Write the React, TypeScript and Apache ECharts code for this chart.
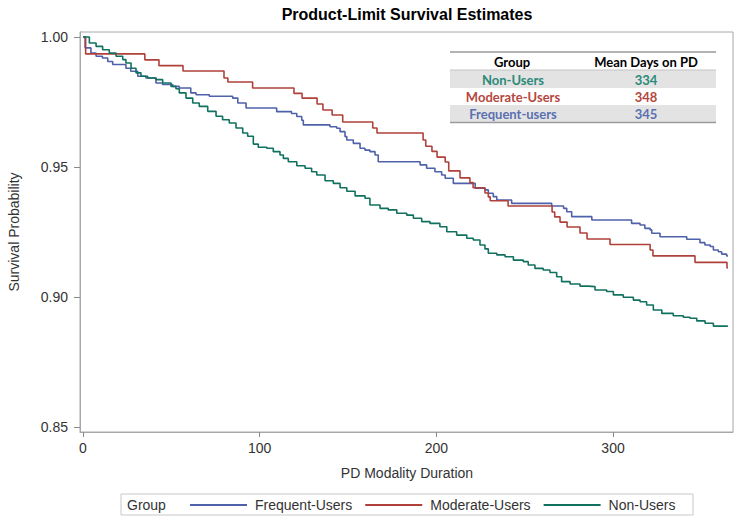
import React, { useEffect, useRef } from 'react';
import * as echarts from 'echarts';

const seriesNames = ['Frequent-Users', 'Moderate-Users', 'Non-Users'];

const frequentUsers: [number, number][] = [
  [0, 1.0], [1.2, 0.9958], [4.5, 0.9938], [7.4, 0.9926], [11, 0.9919], [14, 0.9906],
  [16.8, 0.9894], [24.3, 0.988], [27, 0.9868], [31, 0.9849], [35.6, 0.9842], [41.3, 0.9823],
  [45, 0.9817], [50.8, 0.981], [54.5, 0.9804], [61, 0.9785], [64, 0.9778], [71.5, 0.9772],
  [84.7, 0.9765], [87.6, 0.9746], [92.3, 0.9727], [109.6, 0.9713], [118, 0.9706], [121, 0.9694],
  [123.8, 0.968], [124.7, 0.9662], [139.8, 0.9655], [143.6, 0.9649], [145.5, 0.9636],
  [148.3, 0.9617], [149.3, 0.9604], [153, 0.9591], [156.8, 0.9572], [159.6, 0.9565],
  [162.4, 0.9559], [165.3, 0.9546], [167.1, 0.952], [190.8, 0.9508], [194.5, 0.9495],
  [199.2, 0.9482], [203, 0.9469], [205, 0.9457], [209.6, 0.9437], [222, 0.9418], [227.5, 0.9412],
  [229.4, 0.9399], [232.2, 0.9386], [234.2, 0.9373], [242.6, 0.936], [265.3, 0.935], [272, 0.9341],
  [273.8, 0.9328], [276.6, 0.9309], [288, 0.9296], [310.5, 0.9283], [315.3, 0.9277], [318, 0.9264],
  [321, 0.9258], [321.9, 0.9245], [326.6, 0.9232], [341.7, 0.9222], [349.2, 0.9209], [352, 0.92],
  [355, 0.9194], [356.8, 0.9181], [359.6, 0.9174], [361.5, 0.9165], [364.3, 0.9158], [365, 0.9158],
];

const moderateUsers: [number, number][] = [
  [0, 1.0], [1.5, 0.9935], [35, 0.9912], [43, 0.989], [56.6, 0.9869], [79.8, 0.9842], [82, 0.9827],
  [96, 0.9804], [119.4, 0.9783], [124, 0.9765], [132.5, 0.9742], [135.8, 0.9719], [141, 0.97],
  [147, 0.9673], [164, 0.965], [166.4, 0.9631], [192.5, 0.9604], [194, 0.958], [197.5, 0.956],
  [200.4, 0.9538], [205, 0.9519], [207, 0.9485], [213.4, 0.9458], [219, 0.944], [220.8, 0.942],
  [227.5, 0.94], [229.4, 0.9385], [230.5, 0.937], [240.6, 0.935], [265.5, 0.9327], [267, 0.9308],
  [270, 0.9288], [274, 0.9269], [281.3, 0.9246], [285.3, 0.9223], [298.3, 0.9202], [321, 0.9181],
  [322.6, 0.9158], [346.4, 0.9133], [364.5, 0.9112], [365, 0.9112],
];

const nonUsers: [number, number][] = [
  [0, 1.0], [3.6, 0.9977], [7.4, 0.9964], [11.1, 0.9951], [14.9, 0.9938], [18.7, 0.9926],
  [22.5, 0.9913], [24.3, 0.99], [27.2, 0.988], [30, 0.9862], [32.8, 0.9849], [36.6, 0.9842],
  [41.3, 0.9836], [45.1, 0.9823], [49.8, 0.981], [52.6, 0.9801], [54.5, 0.9785], [58.3, 0.9765],
  [62.1, 0.9746], [65.8, 0.9733], [70.6, 0.9714], [75.3, 0.9695], [79, 0.9682], [82.8, 0.9669],
  [86.6, 0.965], [90.4, 0.9631], [93.2, 0.9618], [96.4, 0.9588], [99.2, 0.9576], [104, 0.9572],
  [107.7, 0.9559], [111.5, 0.9546], [113.4, 0.9533], [116.2, 0.952], [121, 0.9505], [125.7, 0.9495],
  [129.4, 0.9482], [132.3, 0.9469], [137, 0.9447], [141.7, 0.9437], [145.5, 0.942], [149.3, 0.9407],
  [154, 0.9389], [159.6, 0.938], [162.4, 0.9354], [168.1, 0.9341], [172.8, 0.9335], [177.6, 0.9322],
  [183.2, 0.9315], [187, 0.9303], [191.7, 0.929], [196.4, 0.9283], [202, 0.927], [205.9, 0.9251],
  [211.5, 0.9238], [217.2, 0.9226], [220.9, 0.9219], [224.7, 0.92], [227.5, 0.9185], [229.4, 0.9168],
  [234.2, 0.9162], [238.9, 0.9155], [243.6, 0.9142], [249.2, 0.9136], [252, 0.9123], [255.8, 0.911],
  [260.5, 0.9104], [264.3, 0.9094], [268.1, 0.9078], [270.9, 0.9059], [275.7, 0.905], [281.3, 0.9042],
  [286, 0.904], [289.8, 0.9027], [296.4, 0.9021], [300.2, 0.9008], [305.8, 0.8999], [311.5, 0.8988],
  [315.3, 0.8982], [319, 0.8969], [322.8, 0.895], [327.6, 0.8937], [334.1, 0.8928], [339.8, 0.8922],
  [343.6, 0.8918], [347.4, 0.8908], [352.1, 0.8899], [356.8, 0.8888], [365, 0.8888],
];

const xTicks = [0, 100, 200, 300];
const yTicks = [0.85, 0.9, 0.95, 1.0];

const tableHeader = ['Group', 'Mean Days on PD'];
const tableGroups = ['Non-Users', 'Moderate-Users', 'Frequent-users'];
const tableMeans = [334, 348, 345];

const lineColors = ['#4f61aa', '#b0413a', '#11715f'];
const tableColors = ['#2b8a78', '#b5473e', '#5b70b0'];

const FONT = 'Liberation Sans, Arial, sans-serif';
const TFONT = 'Lato, Carlito, sans-serif';

export default function App() {
  const ref = useRef<HTMLDivElement>(null);
  useEffect(() => {
    document.body.style.margin = '0';
    if (!ref.current) return;
    const chart = echarts.init(ref.current, undefined, { renderer: 'svg' });

    const tX = 450, tW = 266;
    const rowY = [70, 88, 105];
    const rowH = [18, 17, 17];
    const graphic: any[] = [
      { type: 'text', x: 407, y: 14, style: { text: 'Product-Limit Survival Estimates', font: `bold 16px ${FONT}`, fill: '#000', align: 'center', verticalAlign: 'middle' } },
      { type: 'text', x: 14, y: 232, rotation: Math.PI / 2, style: { text: 'Survival Probability', font: `14px ${FONT}`, fill: '#333', align: 'center', verticalAlign: 'middle' } },
      { type: 'text', x: 407, y: 473, style: { text: 'PD Modality Duration', font: `14px ${FONT}`, fill: '#333', align: 'center', verticalAlign: 'middle' } },
      // legend box
      { type: 'rect', shape: { x: 121, y: 494, width: 572, height: 21 }, style: { fill: 'none', stroke: '#c8c8c8', lineWidth: 1 } },
      { type: 'text', x: 127, y: 505, style: { text: 'Group', font: `14px ${FONT}`, fill: '#333', align: 'left', verticalAlign: 'middle' } },
      // table
      { type: 'rect', shape: { x: tX, y: rowY[0], width: tW, height: rowH[0] }, style: { fill: '#e3e3e3' } },
      { type: 'rect', shape: { x: tX, y: rowY[2], width: tW, height: rowH[2] }, style: { fill: '#e3e3e3' } },
      { type: 'line', shape: { x1: tX, y1: 52, x2: tX + tW, y2: 52 }, style: { stroke: '#9a9a9a', lineWidth: 1.5 } },
      { type: 'line', shape: { x1: tX, y1: 70, x2: tX + tW, y2: 70 }, style: { stroke: '#c4c4c4', lineWidth: 1 } },
      { type: 'line', shape: { x1: tX, y1: 122.5, x2: tX + tW, y2: 122.5 }, style: { stroke: '#9a9a9a', lineWidth: 1.5 } },
      { type: 'text', x: 512, y: 62, style: { text: tableHeader[0], font: `bold 13px ${TFONT}`, fill: '#000', align: 'center', verticalAlign: 'middle' } },
      { type: 'text', x: 646, y: 62, style: { text: tableHeader[1], font: `bold 13px ${TFONT}`, fill: '#000', align: 'center', verticalAlign: 'middle' } },
    ];
    tableGroups.forEach((g, i) => {
      const cy = rowY[i] + rowH[i] / 2 + 0.5;
      graphic.push({ type: 'text', x: 513, y: cy, style: { text: g, font: `bold 13px ${TFONT}`, fill: tableColors[i], align: 'center', verticalAlign: 'middle' } });
      graphic.push({ type: 'text', x: 646, y: cy, style: { text: String(tableMeans[i]), font: `bold 13px ${TFONT}`, fill: tableColors[i], align: 'center', verticalAlign: 'middle' } });
    });

    const mk = (name: string, data: [number, number][], color: string) => ({
      name, type: 'line', step: 'end', data, symbol: 'none', showSymbol: false,
      lineStyle: { color, width: 1.6 }, itemStyle: { color }, silent: true,
    });

    chart.setOption({
      animation: false,
      backgroundColor: '#fff',
      grid: { left: 80, right: 4, top: 32, bottom: 91, show: true, borderColor: '#a8a8a8', borderWidth: 1, containLabel: false, outerBoundsMode: 'none' },
      xAxis: {
        type: 'value', min: -1.7, max: 367.9,
        axisLine: { show: true, onZero: false, lineStyle: { color: '#a8a8a8' } },
        axisTick: { show: true, customValues: xTicks, length: 5, lineStyle: { color: '#888' } },
        axisLabel: { customValues: xTicks, fontSize: 14, color: '#333', fontFamily: FONT, margin: 9 },
        splitLine: { show: false },
      },
      yAxis: {
        type: 'value', min: 0.84808, max: 1.00192,
        axisLine: { show: true, onZero: false, lineStyle: { color: '#a8a8a8' } },
        axisTick: { show: true, customValues: yTicks, length: 6, lineStyle: { color: '#888' } },
        axisLabel: { customValues: yTicks, fontSize: 14, color: '#333', fontFamily: FONT, margin: 12, formatter: (v: number) => v.toFixed(2) },
        splitLine: { show: false },
      },
      legend: {
        data: seriesNames, left: 190, top: 498, icon: 'rect', itemWidth: 57, itemHeight: 2, itemGap: 13, padding: 0,
        textStyle: { fontSize: 14, color: '#333', fontFamily: FONT, padding: [0, 0, 0, 3] },
        selectedMode: false,
      },
      series: [
        mk(seriesNames[0], frequentUsers, lineColors[0]),
        mk(seriesNames[1], moderateUsers, lineColors[1]),
        mk(seriesNames[2], nonUsers, lineColors[2]),
      ],
      graphic,
    });
    return () => chart.dispose();
  }, []);
  return <div ref={ref} style={{ width: 737, height: 523 }} />;
}
